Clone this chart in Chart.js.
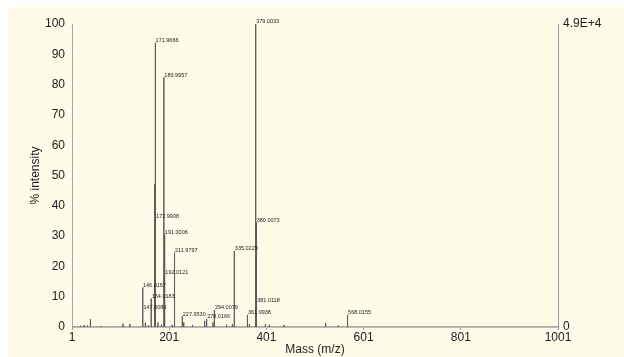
<!DOCTYPE html>
<html>
<head>
<meta charset="utf-8">
<script src="https://cdn.jsdelivr.net/npm/chart.js@4.4.1/dist/chart.umd.min.js"></script>
<style>
  html, body { margin: 0; padding: 0; background: #ffffff; }
  canvas { display: block; }
</style>
</head>
<body>
<canvas id="spectrum" width="624" height="357"></canvas>
<script>
// Mass axis ticks and intensity ticks
const massTicks = [1, 201, 401, 601, 801, 1001];
const intensityTicks = [0, 10, 20, 30, 40, 50, 60, 70, 80, 90, 100];
const rightTickValues = [0, 100];
const rightTickLabels = ['0', '4.9E+4'];

// Annotated peaks (m/z, % intensity)
const labeledMz = [146.0167, 147.0084, 164.0183, 171.9666, 172.9908, 189.9957, 191.0006, 192.0121,
                   211.9797, 227.9530, 278.0166, 294.0079, 335.0229, 361.9938, 379.0033, 380.0073,
                   381.0118, 568.0155];
const labeledIntensity = [13.0, 5.6, 9.4, 93.8, 35.8, 82.4, 30.5, 17.2,
                          24.6, 3.5, 2.6, 5.6, 25.1, 4.0, 100, 34.5,
                          8.1, 4.0];

// Unannotated minor peaks
const minorMz = [19, 26, 33, 39, 60, 106, 120, 152, 158, 171, 178, 185, 207, 231, 249, 274,
                 291, 319, 331, 366, 399, 407, 437, 523, 549];
const minorIntensity = [0.4, 0.6, 0.5, 2.6, 0.3, 1.1, 1.0, 1.5, 0.6, 47.0, 1.5, 0.8, 0.7, 1.5, 0.7, 2.0,
                        1.5, 0.8, 1.0, 1.0, 1.0, 0.7, 0.7, 1.3, 0.5];

const FONT = "'Liberation Sans', Arial, Helvetica, sans-serif";

// Build a stick spectrum: each peak rises from the baseline and returns to it
const peaks = [];
labeledMz.forEach((m, i) => peaks.push([m, labeledIntensity[i]]));
minorMz.forEach((m, i) => peaks.push([m, minorIntensity[i]]));
peaks.sort((a, b) => a[0] - b[0]);
const stickData = [{ x: massTicks[0], y: 0 }];
peaks.forEach(([m, h]) => {
  stickData.push({ x: m, y: 0 }, { x: m, y: h }, { x: m, y: 0 });
});
stickData.push({ x: massTicks[massTicks.length - 1], y: 0 });

const backgroundPlugin = {
  id: 'panelBackground',
  beforeDraw(chart) {
    const { ctx, width, height } = chart;
    ctx.save();
    ctx.fillStyle = '#ffffff';
    ctx.fillRect(0, 0, width, height);
    ctx.fillStyle = '#fffbe9';
    ctx.fillRect(8, 7, width - 8, height - 7);
    ctx.restore();
  }
};

const peakLabelPlugin = {
  id: 'peakLabels',
  afterDatasetsDraw(chart) {
    const { ctx, scales } = chart;
    ctx.save();
    ctx.font = `5.5px ${FONT}`;
    ctx.fillStyle = '#222222';
    ctx.textAlign = 'left';
    ctx.textBaseline = 'bottom';
    labeledMz.forEach((m, i) => {
      const px = scales.x.getPixelForValue(m);
      const py = scales.y.getPixelForValue(labeledIntensity[i]);
      ctx.fillText(m.toFixed(4), px + 0.5, py + 0.5);
    });
    ctx.restore();
  }
};

new Chart(document.getElementById('spectrum'), {
  type: 'scatter',
  data: {
    datasets: [{
      data: stickData,
      showLine: true,
      borderColor: '#5a5a5a',
      borderWidth: 1,
      pointRadius: 0,
      tension: 0
    }]
  },
  options: {
    responsive: false,
    animation: false,
    devicePixelRatio: 1,
    layout: { padding: { top: 24, left: 0, right: 0, bottom: 0 } },
    plugins: { legend: { display: false }, tooltip: { enabled: false } },
    scales: {
      x: {
        type: 'linear',
        min: 1,
        max: 1001,
        afterBuildTicks: s => { s.ticks = massTicks.map(v => ({ value: v })); },
        afterFit: s => { s.height = 30; },
        grid: { display: true, drawOnChartArea: false, drawTicks: true, tickLength: 3, color: '#999999' },
        border: { display: true, color: '#bbbbbb' },
        ticks: { color: '#222222', font: { family: FONT, size: 12 }, padding: 0, maxRotation: 0, callback: v => String(v) },
        title: { display: true, text: 'Mass (m/z)', color: '#222222', font: { family: FONT, size: 12 }, padding: { top: 0, bottom: 0 } }
      },
      y: {
        type: 'linear',
        position: 'left',
        min: 0,
        max: 100,
        afterBuildTicks: s => { s.ticks = intensityTicks.map(v => ({ value: v })); },
        afterFit: s => { s.width = 72; },
        grid: { display: false, drawTicks: false },
        border: { display: true, color: '#aaaaaa' },
        ticks: { color: '#222222', font: { family: FONT, size: 12 }, padding: 7, callback: v => String(v) },
        title: { display: true, text: '% intensity', color: '#222222', font: { family: FONT, size: 12 }, padding: { top: 28, bottom: 0 } }
      },
      y2: {
        type: 'linear',
        position: 'right',
        min: 0,
        max: 100,
        afterBuildTicks: s => { s.ticks = rightTickValues.map(v => ({ value: v })); },
        afterFit: s => { s.width = 66; },
        grid: { display: false, drawTicks: false },
        border: { display: true, color: '#999999' },
        ticks: {
          color: '#222222',
          font: { family: FONT, size: 12 },
          padding: 5,
          callback: v => rightTickLabels[rightTickValues.indexOf(v)]
        }
      }
    }
  },
  plugins: [backgroundPlugin, peakLabelPlugin]
});
</script>
</body>
</html>
